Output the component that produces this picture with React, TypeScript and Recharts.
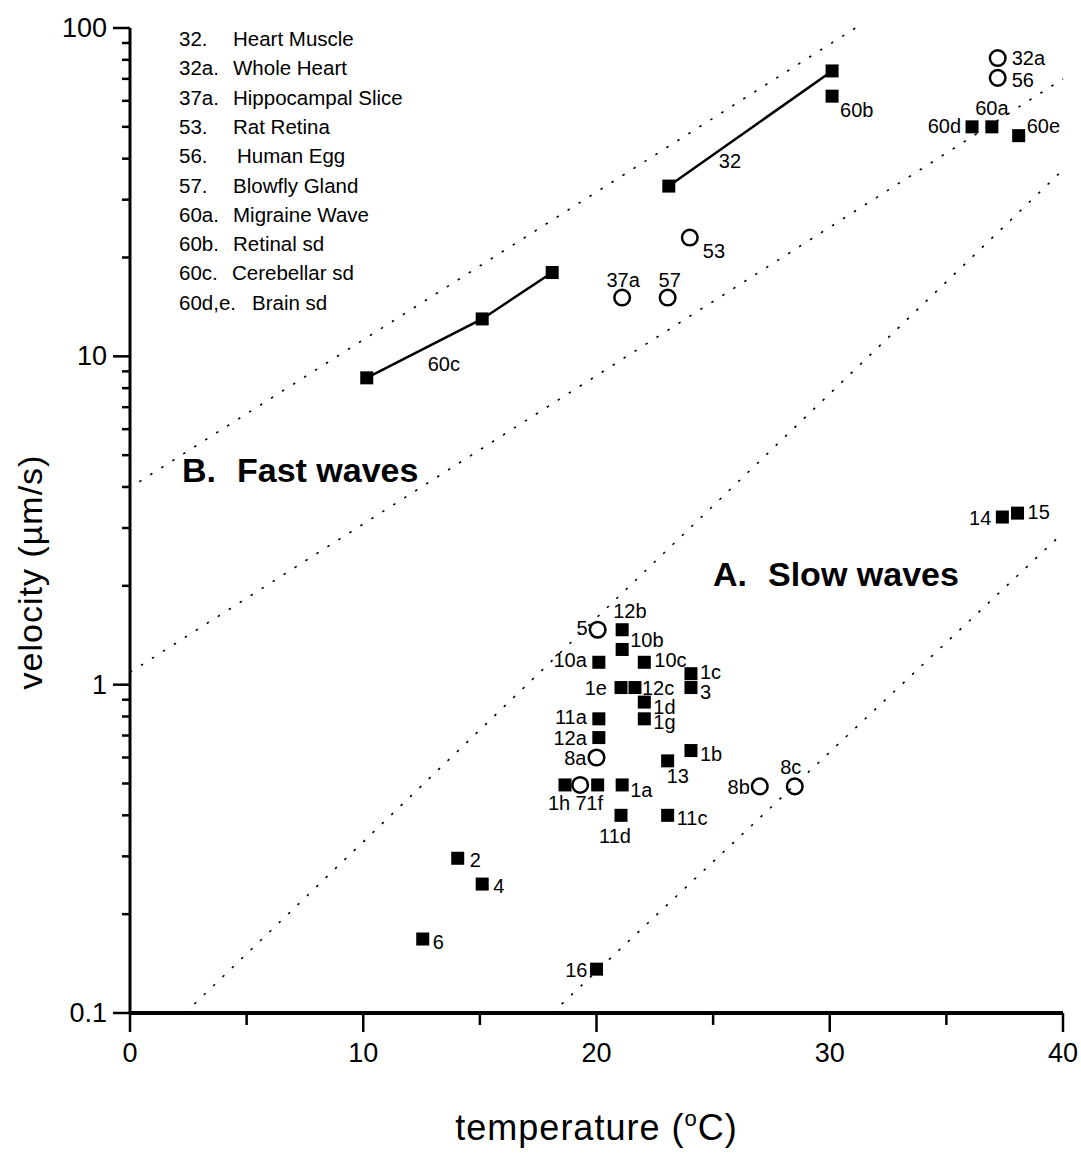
import React from "react";
import { ComposedChart, Scatter, XAxis, YAxis, ReferenceLine } from "recharts";

const W = 1081;
const H = 1153;
const FONT = "'Liberation Sans', Arial, Helvetica, sans-serif";

// axis ticks
const xTicks = [0, 5, 10, 15, 20, 25, 30, 35, 40];
const xMajor = [0, 10, 20, 30, 40];
const yTicks = [
  0.1, 0.2, 0.3, 0.4, 0.5, 0.6, 0.7, 0.8, 0.9,
  1, 2, 3, 4, 5, 6, 7, 8, 9,
  10, 20, 30, 40, 50, 60, 70, 80, 90, 100,
];
const yMajor = [0.1, 1, 10, 100];

// B. fast waves (t = temperature °C, v = velocity µm/s)
const line60c = [
  { id: "60c", t: 10.15, v: 8.6 },
  { id: "", t: 15.1, v: 13 },
  { id: "", t: 18.1, v: 18 },
];
const line32 = [
  { id: "32", t: 23.1, v: 33 },
  { id: "", t: 30.1, v: 74 },
];
const fastSquares = [
  { id: "60b", t: 30.1, v: 62 },
  { id: "60d", t: 36.1, v: 50 },
  { id: "60a", t: 36.95, v: 50 },
  { id: "60e", t: 38.1, v: 47 },
];
const fastCircles = [
  { id: "32a", t: 37.2, v: 81 },
  { id: "56", t: 37.2, v: 70.5 },
  { id: "53", t: 24.0, v: 23 },
  { id: "37a", t: 21.1, v: 15.1 },
  { id: "57", t: 23.05, v: 15.1 },
];

// A. slow waves
const slowSquares = [
  { id: "14", t: 37.4, v: 3.24 },
  { id: "15", t: 38.05, v: 3.33 },
  { id: "12b", t: 21.1, v: 1.47 },
  { id: "10b", t: 21.1, v: 1.28 },
  { id: "10a", t: 20.1, v: 1.17 },
  { id: "10c", t: 22.05, v: 1.17 },
  { id: "1c", t: 24.05, v: 1.08 },
  { id: "3", t: 24.05, v: 0.98 },
  { id: "1e", t: 21.05, v: 0.98 },
  { id: "12c", t: 21.65, v: 0.98 },
  { id: "1d", t: 22.05, v: 0.885 },
  { id: "1g", t: 22.05, v: 0.787 },
  { id: "11a", t: 20.1, v: 0.787 },
  { id: "12a", t: 20.1, v: 0.69 },
  { id: "1b", t: 24.05, v: 0.63 },
  { id: "13", t: 23.05, v: 0.586 },
  { id: "1h", t: 18.65, v: 0.495 },
  { id: "1f", t: 20.05, v: 0.495 },
  { id: "1a", t: 21.1, v: 0.495 },
  { id: "11d", t: 21.05, v: 0.4 },
  { id: "11c", t: 23.05, v: 0.4 },
  { id: "2", t: 14.05, v: 0.296 },
  { id: "4", t: 15.1, v: 0.247 },
  { id: "6", t: 12.55, v: 0.168 },
  { id: "16", t: 20.0, v: 0.136 },
];
const slowCircles = [
  { id: "5", t: 20.05, v: 1.47 },
  { id: "8a", t: 20.0, v: 0.6 },
  { id: "7", t: 19.3, v: 0.495 },
  { id: "8b", t: 27.0, v: 0.49 },
  { id: "8c", t: 28.5, v: 0.49 },
];

// dotted guide lines
const guideFastUpper = [{ x: 0.4, y: 4.15 }, { x: 31.1, y: 100 }];
const guideFastLower = [{ x: 0, y: 1.09 }, { x: 40, y: 70 }];
const guideSlowUpper = [{ x: 2.36, y: 0.1 }, { x: 40, y: 37 }];
const guideSlowLower = [{ x: 18.1, y: 0.1 }, { x: 40, y: 2.9 }];

// legend
const legendNums = ["32.", "32a.", "37a.", "53.", "56.", "57.", "60a.", "60b.", "60c.", "60d,e."];
const legendNames = [
  "Heart Muscle", "Whole Heart", "Hippocampal Slice", "Rat Retina", "Human Egg",
  "Blowfly Gland", "Migraine Wave", "Retinal sd", "Cerebellar sd", "Brain sd",
];
const legendNameX = [233, 233, 233, 233, 237, 233, 233, 233, 232, 252];

// label placement: [dx, dy, anchor] from the marker centre
const labelPos: Record<string, [number, number, string]> = {
  "60c": [61, -7, "start"],
  "32": [50, -18, "start"],
  "60b": [8, 21, "start"],
  "60a": [0, -12, "middle"],
  "60d": [-11, 6, "end"],
  "60e": [8, -3, "start"],
  "32a": [14, 7, "start"],
  "56": [14, 9, "start"],
  "53": [13, 20, "start"],
  "37a": [1, -11, "middle"],
  "57": [2, -11, "middle"],
  "5": [-10, 5, "end"],
  "12b": [-9, -12, "start"],
  "10b": [8, -2, "start"],
  "10a": [-12, 5, "end"],
  "10c": [10, 5, "start"],
  "1c": [9, 5, "start"],
  "3": [9, 11, "start"],
  "1e": [-14, 7, "end"],
  "12c": [7, 7, "start"],
  "1d": [9, 12, "start"],
  "1g": [9, 10, "start"],
  "11a": [-12, 5, "end"],
  "12a": [-12, 7, "end"],
  "8a": [-10, 7, "end"],
  "1b": [9, 10, "start"],
  "13": [-1, 22, "start"],
  "1h": [-6, 25, "middle"],
  "7": [1, 25, "middle"],
  "1f": [-3, 25, "middle"],
  "1a": [8, 12, "start"],
  "11d": [-6, 28, "middle"],
  "11c": [9, 10, "start"],
  "8b": [-10, 8, "end"],
  "8c": [-4, -12, "middle"],
  "14": [-11, 8, "end"],
  "15": [10, 6, "start"],
  "2": [12, 9, "start"],
  "4": [11, 9, "start"],
  "6": [10, 10, "start"],
  "16": [-9, 8, "end"],
};

function PointLabel({ cx, cy, id }: any) {
  const p = labelPos[id];
  if (!p) return null;
  return (
    <text x={cx + p[0]} y={cy + p[1]} textAnchor={p[2]} fontSize={20} fontFamily={FONT} fill="#000">
      {id}
    </text>
  );
}

function Square(props: any) {
  const { cx, cy, payload } = props;
  return (
    <g>
      <rect x={cx - 6.5} y={cy - 6.5} width={13} height={13} fill="#000" />
      <PointLabel cx={cx} cy={cy} id={payload.id} />
    </g>
  );
}

function Ring(props: any) {
  const { cx, cy, payload } = props;
  return (
    <g>
      <circle cx={cx} cy={cy} r={7.8} fill="none" stroke="#000" strokeWidth={2.5} />
      <PointLabel cx={cx} cy={cy} id={payload.id} />
    </g>
  );
}

function XTick({ x, y, payload }: any) {
  const major = xMajor.includes(payload.value);
  return (
    <g>
      <line x1={x} x2={x} y1={y} y2={y + (major ? 19 : 12)} stroke="#000" strokeWidth={2.5} />
      {major && (
        <text x={x} y={y + 49} textAnchor="middle" fontSize={27} fontFamily={FONT} fill="#000">
          {payload.value}
        </text>
      )}
    </g>
  );
}

function YTick({ x, y, payload }: any) {
  const major = yMajor.includes(payload.value);
  const len = major ? 17 : 8;
  return (
    <g>
      <line x1={x} x2={x - len} y1={y} y2={y} stroke="#000" strokeWidth={2.5} />
      {major && (
        <text x={x - len - 6} y={y + 9} textAnchor="end" fontSize={27} fontFamily={FONT} fill="#000">
          {payload.value}
        </text>
      )}
    </g>
  );
}

const dotted = { stroke: "#000", strokeWidth: 1.6, strokeDasharray: "2.5 10.5" };

export default function App() {
  return (
    <div style={{ position: "absolute", left: 0, top: 0, width: W, height: H, background: "#fff" }}>
      <ComposedChart width={W} height={H} margin={{ top: 28, right: 18, bottom: 0, left: 0 }}>
        <XAxis
          type="number"
          dataKey="t"
          domain={[0, 40]}
          ticks={xTicks}
          interval={0}
          allowDataOverflow
          tickSize={0}
          tickMargin={0}
          tickLine={false}
          tick={<XTick />}
          height={140}
          axisLine={{ stroke: "#000", strokeWidth: 4 }}
          label={{
            content: ({ viewBox }: any) => (
              <text
                x={viewBox.x + viewBox.width / 2}
                y={viewBox.y + 127}
                textAnchor="middle"
                fontSize={36}
                letterSpacing={1}
                fontFamily={FONT}
                fill="#000"
              >
                temperature (<tspan fontSize={22} dy={-14}>o</tspan>
                <tspan dy={14}>C)</tspan>
              </text>
            ),
          }}
        />
        <YAxis
          type="number"
          dataKey="v"
          scale="log"
          domain={[0.1, 100]}
          ticks={yTicks}
          interval={0}
          allowDataOverflow
          tickSize={0}
          tickMargin={0}
          tickLine={false}
          tick={<YTick />}
          width={130}
          axisLine={{ stroke: "#000", strokeWidth: 3 }}
          label={{
            content: () => (
              <text
                x={42}
                y={572}
                transform="rotate(-90 42 572)"
                textAnchor="middle"
                fontSize={34}
                letterSpacing={1}
                fontFamily={FONT}
                fill="#000"
              >
                velocity (µm/s)
              </text>
            ),
          }}
        />

        <ReferenceLine segment={guideFastUpper} ifOverflow="visible" {...dotted} />
        <ReferenceLine segment={guideFastLower} ifOverflow="visible" {...dotted} />
        <ReferenceLine segment={guideSlowUpper} ifOverflow="visible" {...dotted} />
        <ReferenceLine segment={guideSlowLower} ifOverflow="visible" {...dotted} />

        <Scatter data={line60c} line={{ stroke: "#000", strokeWidth: 2.5 }} shape={Square} isAnimationActive={false} />
        <Scatter data={line32} line={{ stroke: "#000", strokeWidth: 2.5 }} shape={Square} isAnimationActive={false} />
        <Scatter data={fastSquares} shape={Square} isAnimationActive={false} />
        <Scatter data={fastCircles} shape={Ring} isAnimationActive={false} />
        <Scatter data={slowSquares} shape={Square} isAnimationActive={false} />
        <Scatter data={slowCircles} shape={Ring} isAnimationActive={false} />
      </ComposedChart>

      <svg
        width={W}
        height={H}
        style={{ position: "absolute", left: 0, top: 0, pointerEvents: "none" }}
        fontFamily={FONT}
      >
        {legendNums.map((n, i) => (
          <g key={n}>
            <text x={179} y={46 + i * 29.3} fontSize={20.5} fill="#000">{n}</text>
            <text x={legendNameX[i]} y={46 + i * 29.3} fontSize={20.5} fill="#000">{legendNames[i]}</text>
          </g>
        ))}
        <text y={482} fontSize={34} fontWeight="bold" fill="#000">
          <tspan x={182}>B.</tspan>
          <tspan x={237}>Fast waves</tspan>
        </text>
        <text y={586} fontSize={34} fontWeight="bold" fill="#000">
          <tspan x={713}>A.</tspan>
          <tspan x={768}>Slow waves</tspan>
        </text>
      </svg>
    </div>
  );
}
